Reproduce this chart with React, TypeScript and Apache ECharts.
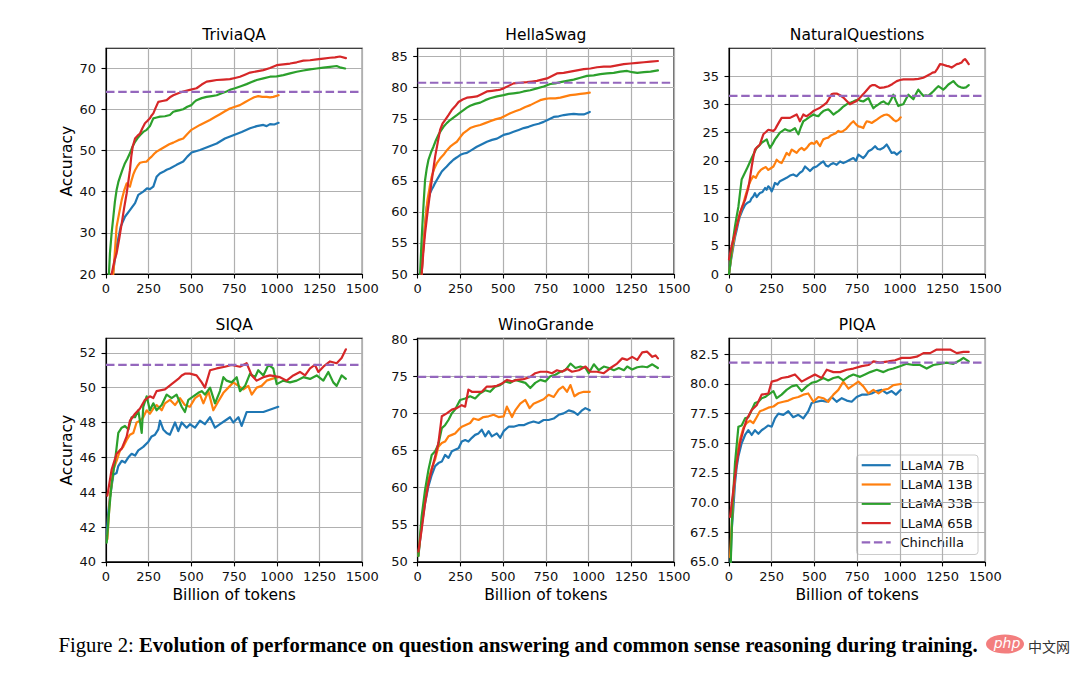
import React, { useEffect, useRef } from "react";
import * as echarts from "echarts";

const FONT = "'DejaVu Sans', sans-serif";
const SERIF = "'Liberation Serif', 'DejaVu Serif', serif";

const panelTitles = ["TriviaQA", "HellaSwag", "NaturalQuestions", "SIQA", "WinoGrande", "PIQA"];
const modelNames = ["LLaMA 7B", "LLaMA 13B", "LLaMA 33B", "LLaMA 65B"];
const modelColors = ["#1f77b4", "#ff7f0e", "#2ca02c", "#d62728"];
const chinchillaName = "Chinchilla";
const chinchillaColor = "#9467bd";
const chinchillaScores = [64.2, 80.8, 31.5, 51.3, 74.9, 81.8];

const xLabel = "Billion of tokens";
const yLabel = "Accuracy";
const xTicks = [0, 250, 500, 750, 1000, 1250, 1500];
const yMin = [20, 50, 0, 40, 50, 65];
const yMax = [74.8, 86.35, 39.9, 52.83, 80.1, 83.85];
const yStep = [10, 5, 5, 2, 5, 2.5];
const yTicks = [
  [20, 30, 40, 50, 60, 70],
  [50, 55, 60, 65, 70, 75, 80, 85],
  [0, 5, 10, 15, 20, 25, 30, 35],
  [40, 42, 44, 46, 48, 50, 52],
  [50, 55, 60, 65, 70, 75, 80],
  [65, 67.5, 70, 72.5, 75, 77.5, 80, 82.5],
];

// ---------- TriviaQA ----------
const triviaQA7B = [[30,14],[40,20],[62,26.6],[86,31.5],[111,33.9],[140,35.5],[170,37.2],[189,39.2],[218,40.0],[240,40.8],[257,40.6],[277,41.2],[296,43.6],[315,44.4],[335,44.8],[355,45.3],[374,45.6],[413,46.5],[452,47.3],[476,48.5],[501,49.5],[550,50.1],[599,50.9],[648,51.7],[696,52.9],[745,53.7],[794,54.5],[843,55.4],[882,55.9],[921,56.2],[940,55.9],[960,56.4],[985,56.3],[1010,56.7]];
const triviaQA13B = [[38,17],[62,31.5],[78,35],[92,38],[108,40.5],[121,42],[132,41.5],[140,41.2],[150,42.8],[160,44.2],[170,45.2],[185,46.3],[199,47.0],[218,47.2],[238,47.3],[253,48.0],[267,48.5],[282,49.2],[296,49.7],[320,50.3],[345,50.9],[370,51.5],[394,51.9],[423,52.5],[452,52.9],[476,54.0],[500,55.0],[525,55.6],[550,56.2],[579,56.8],[608,57.4],[638,58.1],[667,58.8],[696,59.5],[725,60.2],[755,60.6],[784,61.0],[813,61.7],[843,62.4],[867,62.9],[891,63.2],[915,63.0],[940,63.0],[960,62.9],[979,63.0],[1010,63.4]];
const triviaQA33B = [[15,18],[23,25],[33,30],[43,33.9],[52,37.5],[62,40.4],[72,42.3],[82,43.6],[96,45.3],[111,46.9],[125,48.0],[140,49.3],[155,50.9],[170,52.1],[185,53.0],[199,53.7],[218,54.5],[238,55.0],[257,55.9],[277,57.8],[296,58.0],[316,58.2],[345,58.3],[374,58.6],[394,59.4],[413,59.6],[432,59.8],[452,60.0],[476,60.6],[500,61.0],[515,61.7],[530,62.2],[560,62.7],[589,63.0],[618,63.2],[648,63.4],[677,63.9],[706,64.3],[730,64.8],[755,65.1],[789,65.6],[823,66.1],[852,66.6],[882,67.1],[921,67.5],[960,67.9],[999,68.0],[1038,68.3],[1077,68.7],[1116,69.1],[1155,69.4],[1194,69.7],[1233,69.9],[1272,70.1],[1311,70.3],[1350,70.5],[1375,70.1],[1399,69.9]];
const triviaQA65B = [[25,14],[33,20],[48,23],[62,25],[77,28.5],[92,32.3],[106,36],[121,39.6],[131,42.5],[140,45.2],[148,48.5],[156,50.9],[170,52.9],[185,53.6],[199,54.1],[213,55.4],[228,56.6],[243,57.2],[257,57.8],[267,58.5],[277,59.0],[291,60.4],[306,61.8],[330,62.0],[355,62.2],[374,62.9],[394,63.4],[423,63.9],[452,64.3],[491,64.7],[530,65.1],[560,66.0],[589,66.7],[618,66.9],[648,67.1],[687,67.2],[725,67.3],[755,67.6],[784,67.9],[813,68.4],[843,68.9],[882,69.2],[921,69.5],[960,70.0],[999,70.7],[1038,70.9],[1077,71.1],[1116,71.4],[1155,71.8],[1194,71.9],[1233,72.1],[1272,72.3],[1311,72.5],[1340,72.6],[1369,72.8],[1404,72.4]];

// ---------- HellaSwag ----------
const hellaSwag7B = [[20,46],[23,50],[33,54.4],[43,58],[53,60.8],[63,62],[72,63],[82,63.6],[92,64.1],[101,64.6],[111,65.1],[126,65.8],[141,66.5],[155,66.9],[170,67.3],[190,67.9],[209,68.4],[230,68.8],[250,69.2],[270,69.4],[288,69.5],[317,70.0],[346,70.5],[376,70.9],[405,71.3],[435,71.6],[464,71.8],[484,72.1],[503,72.4],[532,72.6],[561,72.9],[591,73.2],[620,73.5],[649,73.7],[678,74.0],[708,74.2],[737,74.5],[766,74.9],[796,75.3],[825,75.4],[855,75.6],[884,75.7],[913,75.8],[943,75.7],[972,75.7],[990,75.9],[1007,76.1]];
const hellaSwag13B = [[20,46],[23,50],[31,53.5],[39,56.5],[48,59.5],[57,61.9],[70,64],[82,65.7],[96,66.9],[111,67.8],[131,68.6],[151,69.2],[170,69.9],[190,70.5],[209,70.9],[229,71.3],[248,72.0],[268,72.7],[288,73.1],[307,73.5],[336,73.8],[366,74.0],[395,74.3],[424,74.6],[454,74.9],[483,75.1],[513,75.5],[542,75.9],[571,76.2],[600,76.5],[630,76.9],[659,77.2],[688,77.6],[717,78.0],[747,78.2],[776,78.3],[805,78.3],[835,78.4],[864,78.6],[893,78.8],[923,78.9],[952,79.0],[980,79.1],[1007,79.2]];
const hellaSwag33B = [[10,45],[14,50],[22,55],[29,58.7],[36,62],[43,65.1],[53,67],[63,68.4],[78,69.6],[92,70.5],[106,71.5],[121,72.4],[136,73.1],[151,73.7],[170,74.3],[190,74.8],[209,75.2],[229,75.6],[248,76.0],[268,76.4],[288,76.8],[307,77.1],[336,77.4],[366,77.6],[395,78.0],[424,78.3],[464,78.6],[503,78.8],[532,79.0],[561,79.1],[591,79.2],[620,79.4],[659,79.6],[698,79.9],[737,80.2],[776,80.6],[805,80.7],[835,80.9],[874,81.1],[913,81.3],[952,81.6],[991,81.9],[1030,82.0],[1069,82.2],[1108,82.3],[1147,82.4],[1186,82.6],[1226,82.7],[1255,82.5],[1285,82.4],[1324,82.5],[1363,82.6],[1406,82.8]];
const hellaSwag65B = [[18,45],[23,50],[33,53.5],[43,56.5],[57,59.8],[72,63],[87,66],[102,68.9],[116,71],[131,73.2],[145,74.2],[160,74.8],[180,75.6],[199,76.4],[219,77.0],[239,77.7],[263,78.1],[288,78.4],[317,78.5],[346,78.6],[376,79.0],[405,79.4],[435,79.5],[464,79.6],[484,79.7],[503,79.9],[532,80.3],[561,80.7],[600,80.8],[639,80.9],[669,81.0],[698,81.1],[727,81.3],[757,81.5],[786,81.9],[815,82.3],[854,82.4],[893,82.6],[933,82.8],[972,83.0],[1011,83.1],[1050,83.3],[1089,83.4],[1128,83.4],[1167,83.6],[1206,83.8],[1245,83.9],[1285,84.0],[1324,84.1],[1363,84.2],[1406,84.3]];

// ---------- NaturalQuestions ----------
const naturalQ7B = [[0,0],[12,2.5],[25,4.8],[35,6.5],[45,7.8],[55,9.2],[64,10.2],[79,11.3],[94,12.2],[108,12.6],[123,12.8],[132,13.4],[142,13.7],[152,14.3],[162,13.6],[172,14.0],[181,14.3],[196,14.5],[211,15.2],[220,14.9],[230,15.5],[240,15.2],[250,14.6],[260,15.3],[269,16.1],[284,15.8],[298,16.4],[318,16.7],[337,17.0],[357,17.4],[376,17.6],[396,17.3],[415,17.9],[430,18.2],[445,19.0],[460,18.6],[474,18.2],[494,18.8],[513,19.0],[533,19.5],[552,19.9],[567,19.2],[581,19.0],[596,19.4],[611,19.6],[630,19.3],[650,19.9],[669,19.6],[689,19.9],[708,20.2],[728,20.5],[743,20.0],[757,21.1],[772,20.8],[786,20.5],[801,21.0],[816,21.7],[835,22.0],[855,22.6],[870,22.1],[884,22.0],[904,22.3],[923,22.9],[937,22.2],[952,21.4],[967,21.5],[982,21.1],[1005,21.7]];
const naturalQ13B = [[0,0],[12,2.8],[25,5.4],[40,7.8],[55,9.6],[70,11.2],[84,12.5],[98,14.0],[113,15.5],[128,16.6],[142,17.3],[157,17.0],[172,17.9],[186,18.4],[201,18.7],[216,18.9],[230,18.4],[245,18.7],[260,19.0],[270,19.6],[279,20.2],[294,19.8],[308,19.6],[323,20.5],[337,21.4],[352,21.0],[367,22.0],[382,21.7],[396,21.4],[411,22.0],[425,22.3],[440,21.9],[455,22.3],[470,22.9],[484,23.2],[499,23.0],[513,23.5],[523,23.0],[533,22.6],[543,23.3],[552,23.8],[567,24.0],[581,24.1],[596,24.5],[611,24.7],[625,24.9],[640,25.3],[655,25.1],[669,25.3],[684,25.6],[699,26.1],[713,26.6],[728,27.0],[742,26.5],[757,26.1],[772,26.0],[786,25.8],[796,26.5],[806,27.0],[820,26.9],[835,26.7],[850,27.0],[865,27.3],[879,27.6],[894,27.9],[908,28.1],[923,28.2],[937,28.0],[952,27.6],[965,27.2],[977,27.0],[990,27.2],[1005,27.7]];
const naturalQ33B = [[0,0],[8,2],[16,4.3],[26,6.5],[35,8.4],[45,10.2],[55,11.9],[64,14.2],[74,16.7],[88,17.6],[103,18.5],[118,19.5],[133,20.5],[147,21.4],[162,22.3],[177,22.7],[191,23.2],[206,23.5],[221,23.8],[230,23.0],[240,22.3],[255,23.0],[269,23.8],[284,24.4],[298,25.0],[313,25.3],[328,25.6],[342,25.4],[357,25.3],[372,25.5],[386,25.8],[396,25.2],[406,24.7],[420,25.9],[435,27.0],[450,27.3],[464,27.6],[479,27.9],[494,28.2],[508,28.0],[523,27.9],[537,28.4],[552,28.8],[567,29.0],[581,29.1],[596,28.7],[611,28.2],[625,28.5],[640,28.8],[655,29.2],[669,29.6],[684,29.9],[699,30.2],[713,30.3],[728,30.5],[742,30.7],[757,30.8],[772,30.6],[786,30.5],[801,30.8],[816,31.1],[830,30.2],[845,29.3],[860,29.7],[875,30.0],[889,30.3],[904,30.5],[918,30.2],[933,30.0],[948,30.8],[962,31.7],[977,30.6],[991,29.7],[1006,29.9],[1020,30.0],[1035,30.9],[1050,31.7],[1064,31.3],[1079,30.9],[1094,31.8],[1108,32.6],[1123,32.0],[1137,31.5],[1152,31.6],[1167,31.5],[1181,31.9],[1196,32.3],[1211,32.8],[1225,33.2],[1240,32.9],[1254,32.6],[1269,33.0],[1284,33.5],[1298,33.8],[1313,34.1],[1328,33.6],[1342,33.2],[1357,33.0],[1372,32.9],[1387,33.0],[1403,33.4]];
const naturalQ65B = [[0,2.6],[12,4.5],[24,6.0],[35,7.2],[50,9.0],[64,10.8],[79,12.0],[94,13.1],[104,14.2],[113,15.2],[123,17.0],[133,19.0],[142,20.6],[152,22.0],[167,22.5],[181,22.9],[191,23.8],[201,24.7],[216,25.1],[230,25.5],[245,25.4],[260,25.3],[270,25.6],[279,26.1],[294,26.9],[308,27.6],[332,27.6],[357,27.6],[376,27.9],[396,28.2],[406,27.6],[415,27.0],[425,27.6],[435,28.2],[445,28.0],[455,27.9],[474,28.3],[494,28.8],[513,29.1],[533,29.4],[552,29.8],[572,30.3],[586,31.0],[601,31.8],[615,31.9],[630,31.9],[650,31.6],[669,31.2],[689,30.6],[708,30.0],[728,30.3],[747,30.6],[767,31.2],[786,31.8],[806,32.5],[826,33.2],[840,33.4],[855,33.4],[870,33.1],[884,32.9],[908,33.0],[933,33.2],[957,33.6],[982,34.1],[1001,34.3],[1021,34.4],[1050,34.4],[1079,34.4],[1108,34.5],[1137,34.7],[1157,35.0],[1176,35.3],[1191,35.6],[1206,35.7],[1220,36.3],[1235,37.1],[1254,37.0],[1274,36.8],[1289,36.7],[1303,36.5],[1318,36.8],[1333,37.1],[1347,37.2],[1362,37.4],[1372,37.8],[1381,38.0],[1392,37.6],[1403,37.1]];

// ---------- SIQA ----------
const siqa7B = [[4,41.6],[13,42.8],[23,43.7],[43,45.0],[62,45.1],[72,45.5],[92,45.8],[111,45.7],[131,46.0],[150,46.2],[170,46.1],[189,46.4],[218,46.6],[248,46.9],[267,47.2],[287,47.3],[306,47.6],[316,48.1],[335,47.6],[355,47.4],[374,47.3],[404,48.0],[423,47.5],[443,48.0],[472,47.7],[491,47.9],[521,47.7],[550,48.1],[579,47.9],[609,48.3],[638,47.7],[667,47.9],[696,48.1],[726,48.3],[745,48.0],[775,48.3],[794,47.8],[823,48.6],[862,48.6],[891,48.6],[921,48.6],[950,48.7],[979,48.8],[1008,48.9]];
const siqa13B = [[8,41.3],[23,43.7],[43,45.3],[62,45.8],[82,46.4],[101,46.6],[121,47.0],[140,47.3],[160,47.4],[179,48.0],[199,48.1],[218,48.3],[238,48.7],[257,48.5],[277,48.8],[296,49.0],[326,48.7],[345,49.1],[374,49.3],[404,49.0],[433,49.4],[462,49.0],[491,48.9],[521,49.4],[550,49.6],[570,49.1],[599,49.8],[628,48.7],[657,49.2],[687,49.7],[716,50.0],[745,50.3],[775,50.1],[804,49.9],[833,50.1],[853,49.6],[882,50.0],[911,50.1],[940,50.4],[970,50.5],[1008,50.6]];
const siqa33B = [[4,41.1],[19,43.0],[33,44.5],[53,45.8],[72,47.4],[92,47.7],[111,47.8],[131,47.6],[150,48.3],[170,48.3],[189,48.7],[209,47.4],[218,48.9],[238,49.5],[257,48.7],[277,49.1],[296,48.7],[326,49.0],[355,49.6],[384,49.4],[413,49.6],[443,48.9],[462,48.6],[482,49.3],[511,49.5],[540,49.7],[560,49.8],[579,49.6],[609,50.0],[638,49.1],[667,49.8],[687,50.6],[706,50.4],[735,50.3],[765,50.6],[784,49.8],[814,50.1],[843,50.8],[872,50.6],[891,51.0],[921,50.7],[950,51.3],[979,51.1],[999,50.2],[1038,50.4],[1077,50.3],[1116,50.4],[1155,50.6],[1194,50.5],[1233,50.7],[1272,50.4],[1301,50.9],[1330,50.3],[1350,50.1],[1379,50.7],[1404,50.5]];
const siqa65B = [[8,43.8],[33,45.3],[62,46.2],[92,46.5],[121,47.2],[140,48.1],[170,48.5],[199,48.8],[228,49.3],[257,49.5],[277,49.4],[296,49.8],[345,49.9],[384,50.2],[423,50.5],[443,50.7],[462,50.8],[491,50.8],[530,50.7],[560,50.3],[579,50.0],[609,51.0],[648,51.1],[696,51.2],[735,51.3],[784,51.2],[823,51.4],[853,50.7],[882,50.4],[921,50.6],[960,50.7],[1018,50.6],[1057,50.4],[1096,50.7],[1135,50.9],[1165,50.7],[1194,51.1],[1223,51.3],[1243,50.9],[1272,51.2],[1311,51.5],[1350,51.4],[1379,51.7],[1404,52.2]];

// ---------- WinoGrande ----------
const wino7B = [[4,50.8],[23,54.8],[43,57.9],[63,60.2],[82,61.7],[102,62.9],[121,63.3],[141,63.5],[160,64.4],[180,64.0],[200,64.9],[219,65.1],[239,65.3],[258,66.2],[278,66.4],[297,66.2],[317,66.7],[336,67.1],[356,67.3],[375,67.8],[395,66.9],[415,67.6],[434,66.9],[463,67.3],[483,66.7],[503,67.6],[532,68.2],[561,68.2],[590,68.4],[620,68.4],[649,68.7],[678,68.9],[708,68.7],[737,69.1],[766,69.1],[796,69.3],[825,69.8],[854,70.0],[884,70.4],[913,70.2],[937,69.8],[962,70.4],[981,70.7],[1007,70.4]];
const wino13B = [[4,50.8],[23,55.2],[43,58.8],[63,61.1],[82,62.6],[102,63.8],[121,65.5],[141,66.0],[160,66.2],[180,66.9],[200,67.1],[219,67.3],[239,67.8],[258,68.2],[278,68.4],[307,68.7],[327,69.3],[356,69.1],[385,69.5],[415,69.6],[444,69.8],[473,69.5],[503,69.6],[522,70.9],[552,69.5],[571,70.4],[600,71.3],[630,71.8],[655,70.7],[678,71.3],[708,71.6],[737,71.9],[766,72.5],[796,72.2],[825,73.2],[850,73.6],[874,72.9],[894,73.8],[917,72.3],[943,72.7],[972,72.9],[1007,72.9]];
const wino33B = [[4,50.8],[23,56.1],[43,59.7],[63,62.4],[82,64.4],[102,64.9],[121,65.8],[141,68.0],[160,68.4],[180,69.1],[200,70.0],[219,70.5],[248,71.8],[278,72.0],[307,72.3],[336,72.0],[366,72.7],[395,73.1],[424,72.9],[454,73.6],[483,73.8],[512,74.3],[542,74.1],[571,74.5],[600,74.3],[630,74.1],[659,73.4],[688,74.1],[718,74.5],[747,74.3],[776,75.0],[806,75.2],[835,75.6],[864,75.8],[894,76.7],[923,76.1],[952,76.3],[982,76.1],[1001,75.4],[1031,76.6],[1060,75.8],[1089,76.3],[1119,76.1],[1148,75.8],[1177,76.1],[1207,75.8],[1226,76.3],[1255,75.9],[1285,76.2],[1314,76.3],[1343,76.2],[1373,76.6],[1406,76.1]];
const wino65B = [[4,51.4],[23,54.3],[43,57.9],[63,60.6],[82,62.4],[102,64.2],[121,66.0],[141,69.6],[170,70.0],[200,70.5],[229,70.7],[258,71.1],[278,70.9],[297,73.2],[317,72.9],[346,72.9],[375,72.9],[405,73.6],[434,73.6],[463,73.7],[493,74.0],[522,74.5],[552,74.3],[581,74.5],[620,74.6],[659,74.9],[688,75.4],[718,75.6],[757,75.6],[786,75.4],[815,75.8],[845,75.6],[874,76.0],[903,75.6],[943,75.8],[982,76.3],[1011,75.6],[1050,75.6],[1089,75.4],[1128,76.1],[1167,76.7],[1197,77.4],[1226,77.2],[1255,77.6],[1285,77.2],[1314,78.2],[1343,78.3],[1373,77.6],[1392,77.8],[1406,77.4]];

// ---------- PIQA ----------
const piqa7B = [[6,63.5],[15,67.5],[25,69.4],[35,71.6],[45,73.0],[55,73.9],[74,75.0],[94,75.7],[113,76.1],[133,75.7],[152,76.1],[172,75.8],[191,76.1],[211,76.3],[230,76.5],[250,76.4],[269,77.1],[289,77.5],[318,77.4],[347,77.7],[376,77.2],[406,77.4],[435,77.1],[464,77.7],[484,78.4],[513,78.5],[542,78.6],[572,78.5],[601,78.9],[630,78.5],[660,78.8],[689,78.6],[718,78.5],[747,78.9],[777,79.1],[806,79.1],[835,79.2],[864,79.4],[894,79.5],[923,79.2],[952,79.4],[977,79.1],[1005,79.5]];
const piqa13B = [[6,65.4],[25,70.5],[45,73.9],[64,75.3],[84,76.3],[103,76.7],[123,76.9],[142,76.7],[162,77.2],[181,77.7],[201,77.8],[230,78.0],[260,78.1],[289,78.4],[318,78.5],[347,78.6],[376,78.8],[406,78.9],[435,79.1],[464,79.2],[494,78.5],[523,78.9],[552,78.8],[581,78.5],[611,79.1],[640,79.5],[669,80.2],[699,79.6],[728,79.9],[757,80.2],[786,79.8],[816,79.2],[845,79.5],[875,79.2],[904,79.5],[933,79.6],[962,79.9],[1005,80.0]];
const piqa33B = [[6,63],[21,69.9],[35,73.3],[55,76.4],[74,76.5],[94,77.1],[113,77.2],[133,77.8],[152,78.4],[172,78.5],[191,78.8],[211,78.9],[230,79.1],[260,79.4],[279,78.8],[308,79.1],[337,79.5],[367,79.8],[396,79.9],[425,79.4],[455,79.8],[484,80.1],[513,80.2],[552,80.5],[581,80.3],[611,80.5],[640,80.6],[669,80.3],[699,80.6],[728,80.8],[767,80.6],[796,80.8],[826,81.0],[865,81.2],[904,81.0],[933,81.2],[962,81.3],[1001,81.5],[1040,81.7],[1079,81.6],[1118,81.6],[1157,81.3],[1196,81.6],[1235,81.7],[1274,81.8],[1313,81.7],[1352,82.0],[1372,82.2],[1403,81.9]];
const piqa65B = [[6,68.8],[25,71.0],[45,73.3],[64,75.0],[84,76.1],[103,77.0],[133,77.8],[162,78.2],[191,79.1],[230,79.2],[250,80.2],[279,80.3],[308,80.5],[347,80.6],[386,80.8],[425,80.2],[464,80.5],[503,80.8],[542,80.5],[572,81.2],[611,81.0],[650,81.0],[689,81.2],[728,81.3],[777,81.5],[816,81.6],[845,81.9],[884,81.8],[933,81.9],[972,82.0],[1011,82.2],[1060,82.2],[1099,82.3],[1138,82.6],[1177,82.6],[1216,82.9],[1255,82.9],[1294,82.9],[1333,82.6],[1372,82.7],[1403,82.7]];

const panelSeries = [
  [triviaQA7B, triviaQA13B, triviaQA33B, triviaQA65B],
  [hellaSwag7B, hellaSwag13B, hellaSwag33B, hellaSwag65B],
  [naturalQ7B, naturalQ13B, naturalQ33B, naturalQ65B],
  [siqa7B, siqa13B, siqa33B, siqa65B],
  [wino7B, wino13B, wino33B, wino65B],
  [piqa7B, piqa13B, piqa33B, piqa65B],
];

const captionLead = "Figure 2:";
const captionBody = "Evolution of performance on question answering and common sense reasoning during training.";

// layout (pixels)
const colLeft = [106, 417.7, 729];
const rowTop = [48.3, 338.3];
const rowHeight = [225.7, 223.6];
const gridW = 256.3;

function buildOption(): any {
  const grid = panelTitles.map((_, i) => ({
    left: colLeft[i % 3],
    top: rowTop[Math.floor(i / 3)],
    width: gridW,
    height: rowHeight[Math.floor(i / 3)],
    show: true,
    borderColor: "#000",
    borderWidth: 1.1,
    backgroundColor: "transparent",
    containLabel: false,
  }));

  const xAxis = panelTitles.map((_, i) => ({
    gridIndex: i,
    type: "value",
    min: xTicks[0],
    max: xTicks[xTicks.length - 1],
    interval: 250,
    name: i >= 3 ? xLabel : "",
    nameLocation: "middle",
    nameGap: 25,
    nameTextStyle: { fontFamily: FONT, fontSize: 15.5, color: "#000" },
    axisLine: { show: true, onZero: false, lineStyle: { color: "#000", width: 1.1 } },
    axisTick: { show: true, length: 4.5, lineStyle: { color: "#000", width: 1.1 } },
    axisLabel: {
      fontFamily: FONT,
      fontSize: 13,
      color: "#111",
      margin: 8,
      hideOverlap: false,
      formatter: (v: number) => String(v),
    },
    splitLine: { show: true, lineStyle: { color: "#b0b0b0", width: 1.2 } },
  }));

  const yAxis = panelTitles.map((_, i) => ({
    gridIndex: i,
    type: "value",
    min: yMin[i],
    max: yMax[i],
    interval: yStep[i],
    name: i % 3 === 0 ? yLabel : "",
    nameLocation: "middle",
    nameGap: 31,
    nameRotate: 90,
    nameTextStyle: { fontFamily: FONT, fontSize: 15.5, color: "#000" },
    axisLine: { show: true, onZero: false, lineStyle: { color: "#000", width: 1.1 } },
    axisTick: { show: true, length: 4.5, customValues: yTicks[i], lineStyle: { color: "#000", width: 1.1 } },
    axisLabel: {
      customValues: yTicks[i],
      fontFamily: FONT,
      fontSize: 13,
      color: "#111",
      margin: 10,
      formatter: (v: number) => (i === 5 ? v.toFixed(1) : String(v)),
    },
    splitLine: { show: true, lineStyle: { color: "#b0b0b0", width: 1.2 } },
  }));

  const series: any[] = [];
  panelSeries.forEach((models, i) => {
    models.forEach((data, m) => {
      series.push({
        type: "line",
        name: modelNames[m],
        xAxisIndex: i,
        yAxisIndex: i,
        data,
        symbol: "none",
        showSymbol: false,
        clip: true,
        silent: true,
        color: modelColors[m],
        lineStyle: { color: modelColors[m], width: 2.2, cap: "round", join: "round" },
      });
    });
    series.push({
      type: "line",
      name: chinchillaName,
      xAxisIndex: i,
      yAxisIndex: i,
      data: [[xTicks[0], chinchillaScores[i]], [xTicks[xTicks.length - 1], chinchillaScores[i]]],
      symbol: "none",
      showSymbol: false,
      silent: true,
      color: chinchillaColor,
      lineStyle: { color: chinchillaColor, width: 2.2, type: [8.5, 3.7] },
    });
  });

  const graphic: any[] = [];
  panelTitles.forEach((t, i) => {
    graphic.push({
      type: "text",
      x: colLeft[i % 3] + gridW / 2,
      y: i < 3 ? 35.3 : 325,
      style: { text: t, fontFamily: FONT, fontSize: 15.5, fill: "#000", align: "center", verticalAlign: "middle" },
    });
  });

  // legend (matplotlib style) inside PIQA panel
  const lgX = 856.5, lgY = 455, lgW = 121.5, lgH = 99.5;
  const legendChildren: any[] = [
    {
      type: "rect",
      shape: { x: lgX, y: lgY, width: lgW, height: lgH, r: 3 },
      style: { fill: "rgba(255,255,255,0.8)", stroke: "#cccccc", lineWidth: 1 },
    },
  ];
  const legendNames = [...modelNames, chinchillaName];
  const legendColors = [...modelColors, chinchillaColor];
  legendNames.forEach((n, k) => {
    const cy = 465.2 + k * 19.3;
    legendChildren.push({
      type: "line",
      shape: { x1: 861.7, y1: cy, x2: 890.7, y2: cy },
      style: {
        stroke: legendColors[k],
        lineWidth: 2.2,
        lineDash: k === 4 ? [8.5, 3.7] : null,
      },
    });
    legendChildren.push({
      type: "text",
      x: 900.5,
      y: cy,
      style: { text: n, fontFamily: FONT, fontSize: 13, fill: "#111", align: "left", verticalAlign: "middle" },
    });
  });
  graphic.push({ type: "group", children: legendChildren });

  // caption
  graphic.push({
    type: "text",
    x: 58.5,
    y: 645,
    style: {
      text: `{a|${captionLead}} {b|${captionBody}}`,
      verticalAlign: "middle",
      align: "left",
      rich: {
        a: { fontFamily: SERIF, fontSize: 20.7, fill: "#000", fontWeight: "normal" },
        b: { fontFamily: SERIF, fontSize: 20.7, fill: "#000", fontWeight: "bold" },
      },
      fontFamily: SERIF,
      fontSize: 20.7,
    },
  });

  // watermark
  graphic.push({
    type: "ellipse",
    shape: { cx: 1005, cy: 644, rx: 19, ry: 9.5 },
    style: { fill: "rgba(240,90,90,0.78)" },
  });
  graphic.push({
    type: "text",
    x: 1007,
    y: 643,
    style: { text: "php", fontFamily: "'DejaVu Sans', sans-serif", fontStyle: "italic", fontSize: 14, fill: "#fff", align: "center", verticalAlign: "middle" },
  });
  graphic.push({
    type: "text",
    x: 1028,
    y: 645.5,
    style: { text: "中文网", fontFamily: "'Noto Sans CJK SC', sans-serif", fontSize: 14, fill: "#333", align: "left", verticalAlign: "middle" },
  });

  return {
    animation: false,
    backgroundColor: "#ffffff",
    textStyle: { fontFamily: FONT },
    grid,
    xAxis,
    yAxis,
    series,
    graphic,
  };
}

export default function App() {
  const ref = useRef<HTMLDivElement>(null);
  useEffect(() => {
    if (!ref.current) return;
    const chart = echarts.init(ref.current, undefined, { renderer: "svg" });
    chart.setOption(buildOption());
    return () => {
      chart.dispose();
    };
  }, []);
  return (
    <div
      ref={ref}
      style={{ position: "absolute", left: 0, top: 0, width: 1080, height: 679, background: "#fff" }}
    />
  );
}
